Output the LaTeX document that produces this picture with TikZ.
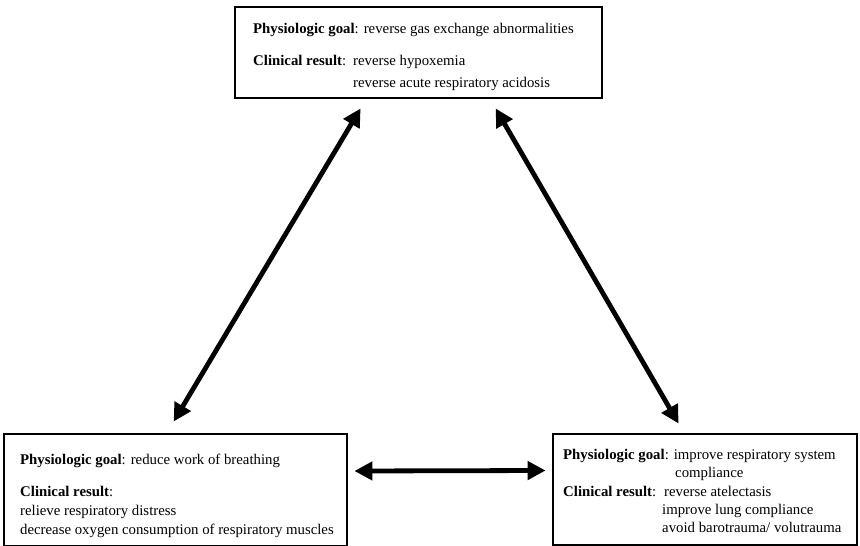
\documentclass[tikz,border=0pt]{standalone}
\usepackage{fontspec}
\setmainfont{Liberation Serif}
\usetikzlibrary{arrows.meta,calc}
\begin{document}
\begin{tikzpicture}[x=1pt,y=-1pt,
  goalbox/.style={draw,line width=2.8pt,inner sep=0pt},
  txt/.style={anchor=base west,inner sep=0pt,font=\fontsize{14.8}{17}\selectfont},
  link/.style={line width=4.8pt,{Triangle[length=18pt,width=18pt]}-{Triangle[length=18pt,width=18pt]}}]
\useasboundingbox (0,0) rectangle (860,546);
% three boxes
\node[goalbox,minimum width=367pt,minimum height=91pt] (gas) at (418.5,52.5) {};
\node[goalbox,minimum width=343pt,minimum height=112pt] (wob) at (175.5,490) {};
\node[goalbox,minimum width=304pt,minimum height=111pt] (comp) at (705,489.5) {};
% top box text
\node[txt] (g1) at (253,34) {\textbf{Physiologic goal}: reverse gas exchange abnormalities};
\node[txt] (g2) at (253,65) {\textbf{Clinical result}:};
\node[txt] (g3) at (353,65) {reverse hypoxemia};
\node[txt] (g4) at (353,87) {reverse acute respiratory acidosis};
% bottom left text
\node[txt] (w1) at (20,464) {\textbf{Physiologic goal}: reduce work of breathing};
\node[txt] (w2) at (20,496) {\textbf{Clinical result}:};
\node[txt] (w3) at (20,515) {relieve respiratory distress};
\node[txt] (w4) at (20,534) {decrease oxygen consumption of respiratory muscles};
% bottom right text
\node[txt] (c1) at (563,459) {\textbf{Physiologic goal}: improve respiratory system};
\node[txt] (c2) at (675,477) {compliance};
\node[txt] (c3) at (563,496) {\textbf{Clinical result}:};
\node[txt] (c4) at (664,496) {reverse atelectasis};
\node[txt] (c5) at (662,514) {improve lung compliance};
\node[txt] (c6) at (662,532) {avoid barotrauma/ volutrauma};
% connectors
\draw[link] ([xshift=127pt,yshift=-9pt]gas.south west) -- ([xshift=171pt,yshift=11pt]wob.north west);
\draw[link] ([xshift=262pt,yshift=-9pt]gas.south west) -- ([xshift=127pt,yshift=9pt]comp.north west);
\draw[link] ([xshift=6pt,yshift=19pt]wob.east) -- ([xshift=-6pt,yshift=19pt]comp.west);
\end{tikzpicture}
\end{document}
